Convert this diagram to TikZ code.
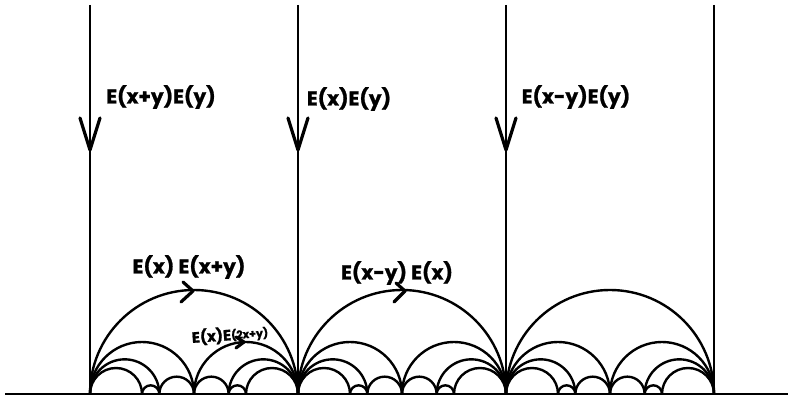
\documentclass[tikz,border=0pt]{standalone}
\usepackage{fontspec}
\setmainfont{Poppins}
\newfontfamily\hand{Poppins}[BoldFeatures={FakeBold=1.2}]
\begin{document}
\begin{tikzpicture}[x=1pt,y=1pt,
  edge/.style={line width=2.6pt},
  arcline/.style={line width=2.4pt},
  chev/.style={line width=3.2pt, line cap=round, line join=round},
  lab/.style={font=\hand\bfseries\fontsize{20}{20}\selectfont, inner sep=0pt},
  smalllab/.style={font=\hand\bfseries\fontsize{15}{15}\selectfont, inner sep=0pt}]
\useasboundingbox (0,0) rectangle (788,396);
\coordinate (bl) at (5,2);
\coordinate (br) at (788,2);
\draw[edge] (bl) -- (br);
\foreach \i/\x in {0/90,1/298,2/506,3/714} {
  \coordinate (t\i) at (\x,391);
  \coordinate (b\i) at (\x,2);
  \draw[edge] (t\i) -- (b\i);
}
% Farey-like semicircles, endpoints in twelfths of a cell
\foreach \x in {90,298,506} {
  \foreach \a/\b in {0/12,0/6,6/12,0/4,8/12,0/3,9/12,3/4,4/6,6/8,8/9} {
    \draw[arcline] ({\x+\a*208/12},2) arc[start angle=180,end angle=0,radius={(\b-\a)*104/12}];
  }
}
% arrows on vertical lines
\foreach \x in {90,298,506} {
  \draw[chev] ({\x-10},278) -- (\x,246) -- ({\x+10},278);
}
% arrows on arcs
\draw[chev] (183,114) -- (193,105) -- (181,94);
\draw[chev] (396,113) -- (405,105) -- (394,94);
\draw[chev] (236,59) -- (244,54) -- (236,48);
% labels
\node[lab] (l1) at (161,299) {E(x+y)E(y)};
\node[lab] (l2) at (349,297) {E(x)E(y)};
\node[lab] (l3) at (576,299) {E(x-y)E(y)};
\node[lab] (l4) at (189,129) {E(x) E(x+y)};
\node[lab] (l5) at (397,123) {E(x-y) E(x)};
\node[smalllab, rotate=4] (l6) at (230,61) {E(x)E\raisebox{1pt}{\fontsize{11}{11}\selectfont(2x+y)}};
\end{tikzpicture}
\end{document}
